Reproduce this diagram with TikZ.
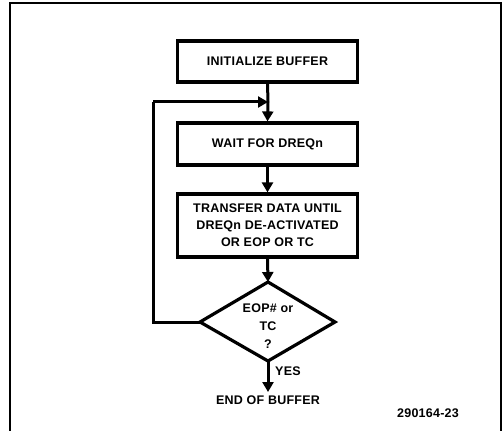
\documentclass[tikz,border=0pt]{standalone}
\usepackage{fontspec}
\setmainfont{Liberation Sans}[LetterSpace=2]
\usetikzlibrary{arrows.meta,shapes.geometric}
\begin{document}
\begin{tikzpicture}[x=1pt,y=-1pt,
  box/.style={draw,line width=3.2pt,minimum width=180pt,inner sep=0pt,font=\fontsize{12.5}{17}\selectfont\bfseries,align=center},
  lbl/.style={font=\fontsize{12.5}{17}\selectfont\bfseries,align=center,inner sep=0pt},
  flow/.style={line width=3pt,-{Triangle[length=10pt,width=11pt]}},
  frame/.style={line width=1.3pt}]
\useasboundingbox (0,0) rectangle (502,430);
\draw[frame] (10,431) -- (10,3) -- (501,3) -- (501,431);
\node[box,minimum height=41pt] (init) at (267.5,61.5) {INITIALIZE BUFFER};
\node[box,minimum height=42pt] (wait) at (267.5,144) {WAIT FOR DREQn};
\node[box,minimum height=63pt] (xfer) at (267.5,225.5) {TRANSFER DATA UNTIL\\DREQn DE-ACTIVATED\\OR EOP OR TC};
\coordinate (dt) at (268,282);
\coordinate (db) at (268,361);
\coordinate (dl) at (200,322);
\coordinate (dr) at (335,322);
\draw[line width=3.2pt,line join=miter] (dt) -- (dr) -- (db) -- (dl) -- cycle;
\node[lbl,font=\fontsize{12.5}{18}\selectfont\bfseries] (dec) at (268,326) {EOP\# or\\TC\\?};
\coordinate (join) at (268,102);
\coordinate (lc) at (153,322);
\coordinate (lt) at (153,102);
\draw[line width=3pt] (init.south) -- (join);
\draw[flow] (join) -- (wait.north);
\draw[flow] (wait.south) -- (xfer.north);
\draw[flow] (xfer.south) -- (dt);
\draw[line width=3pt] (dl) -- (lc) -- (lt);
\draw[flow] (lt) -- (join);
\node[lbl,anchor=north] (end) at (268,396) {END OF BUFFER};
\draw[flow,shorten >=4pt] (db) -- (end.north);
\node[lbl,anchor=west] (yes) at (275,371) {YES};
\node[lbl] (fig) at (428,413) {290164-23};
\end{tikzpicture}
\end{document}
